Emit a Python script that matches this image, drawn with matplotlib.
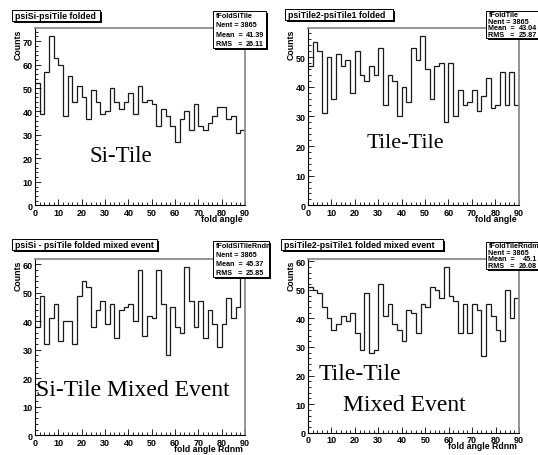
import numpy as np
import matplotlib
matplotlib.use("Agg")
import matplotlib.pyplot as plt
from matplotlib.patches import Rectangle
from matplotlib.ticker import MultipleLocator

W, H = 538, 456

# bin edges: 45 bins of 2 degrees between 0 and 90
bordes = np.arange(0, 92, 2)

si_tile = [52, 39, 57, 72, 63, 60, 38, 55, 44, 51, 46, 37, 49, 44, 39, 40, 50, 44, 41, 44,
           48, 39, 51, 44, 45, 43, 34, 41, 38, 34, 27, 37, 40, 32, 43, 34, 32, 35, 38, 42,
           42, 37, 38, 31, 32]
tile_tile = [47, 55, 52, 31, 50, 36, 51, 47, 49, 38, 52, 44, 42, 47, 44, 53, 34, 44, 42, 30,
             40, 35, 53, 49, 57, 46, 36, 47, 48, 28, 48, 30, 39, 34, 35, 39, 32, 37, 43, 33,
             34, 45, 34, 45, 34]
si_tile_mixed = [38, 49, 32, 41, 46, 33, 40, 40, 32, 49, 54, 52, 38, 44, 47, 39, 46, 34, 44, 45,
                 46, 40, 58, 35, 42, 41, 58, 46, 28, 45, 38, 36, 59, 47, 38, 47, 34, 44, 39, 31,
                 39, 48, 41, 45, 58]
tile_tile_mixed = [51, 50, 49, 44, 40, 36, 38, 41, 39, 42, 35, 29, 49, 28, 29, 52, 41, 45, 38, 36,
                   32, 43, 42, 35, 45, 44, 51, 50, 47, 58, 48, 46, 35, 45, 35, 45, 43, 27, 45, 41,
                   36, 32, 50, 40, 47]

titulos = ["psiSi-psiTile folded", "psiTile2-psiTile1 folded",
           "psiSi - psiTile folded mixed event", "psiTile2-psiTile1 folded mixed event"]
nombres = ["fFoldSiTile", "fFoldTile", "fFoldSiTileRndm", "fFoldTileRndm"]
nent = [3865, 3865, 3865, 3865]
medias = ["41.39", "43.04", "45.37", "45.1"]
rms = ["26.11", "25.87", "25.85", "26.08"]
etiquetas_x = ["fold angle", "fold angle", "fold angle Rdnm", "fold angle Rdnm"]

plt.rcParams['font.family'] = ['Liberation Sans', 'DejaVu Sans']
plt.rcParams['font.weight'] = 'bold'

fig = plt.figure(figsize=(W / 100, H / 100), dpi=100)
fig.patch.set_facecolor('white')


def fx(x):
    return x / W


def fy(y):
    return 1 - y / H


def caja(x0, y0, x1, y1, sombra=1.6):
    # white box with a black drop shadow, ROOT style
    fig.add_artist(Rectangle((fx(x0 + sombra), fy(y1 + sombra)), (x1 - x0) / W, (y1 - y0) / H,
                             transform=fig.transFigure, facecolor='black', edgecolor='none', zorder=5))
    fig.add_artist(Rectangle((fx(x0), fy(y1)), (x1 - x0) / W, (y1 - y0) / H,
                             transform=fig.transFigure, facecolor='white', edgecolor='black',
                             lw=0.7, zorder=6))


# frame of each pad in pixels: x0, y0, x1, y1
marcos = [(35, 29, 245, 206.3), (308, 29, 518.7, 206.3),
          (35, 259.7, 245, 436.3), (308, 259.7, 519, 433.7)]
cajas_titulo = [(12, 11, 100, 22), (285, 10, 393, 21), (12, 240, 157, 251), (281, 240, 443, 251)]
cajas_stats = [(213, 12, 266, 49), (486, 12, 540, 39), (213, 242, 269, 278), (486, 243, 540, 270)]
datos = [si_tile, tile_tile, si_tile_mixed, tile_tile_mixed]

for i in range(4):
    x0, y0, x1, y1 = marcos[i]
    ax = fig.add_axes([fx(x0), fy(y1), (x1 - x0) / W, (y1 - y0) / H])
    ax.stairs(datos[i], bordes, color='#1a1a1a', lw=0.9, baseline=None)
    ax.set_xlim(0, 90)
    ax.set_ylim(0, 1.05 * max(datos[i]))
    ax.xaxis.set_major_locator(MultipleLocator(10))
    ax.xaxis.set_minor_locator(MultipleLocator(2))
    ax.yaxis.set_major_locator(MultipleLocator(10))
    ax.yaxis.set_minor_locator(MultipleLocator(2))
    ax.tick_params(which='both', direction='in', labelsize=6.5, width=0.6)
    ax.tick_params(axis='x', pad=2)
    ax.tick_params(axis='y', pad=1.5)
    ax.tick_params(which='major', length=4)
    ax.tick_params(which='minor', length=2)
    for lado in ['left', 'bottom']:
        ax.spines[lado].set_color('black')
        ax.spines[lado].set_linewidth(0.8)
    for lado in ['top', 'right']:
        ax.spines[lado].set_color('#8c8c8c')
        ax.spines[lado].set_linewidth(1.3)

    # axis titles
    fig.text(fx(x0 - 17), fy(y0 + 1), "Counts", rotation=90, ha='center', va='top', fontsize=6.3)
    fig.text(fx(x1 - 2), fy(y1 + 13), etiquetas_x[i], ha='right', va='center', fontsize=6.3)

    # pad title
    tx0, ty0, tx1, ty1 = cajas_titulo[i]
    caja(tx0, ty0, tx1, ty1)
    fig.text(fx(tx0 + 3), fy((ty0 + ty1) / 2), titulos[i], ha='left', va='center',
             fontsize=6.3, zorder=7)

    # statistics box
    sx0, sy0, sx1, sy1 = cajas_stats[i]
    caja(sx0, sy0, sx1, sy1)
    paso = (sy1 - sy0) / 4
    clip = Rectangle((fx(sx0), fy(sy1)), (sx1 - sx0) / W, (sy1 - sy0) / H,
                     transform=fig.transFigure)
    lineas = [(nombres[i], None), ("Nent = %d" % nent[i], None),
              ("Mean  = ", medias[i]), ("RMS   = ", rms[i])]
    for k, (izq, der) in enumerate(lineas):
        yy = fy(sy0 + paso * (k + 0.5))
        t = fig.text(fx(sx0 + 2.5), yy, izq, ha='left', va='center', fontsize=5.2, zorder=7)
        t.set_clip_path(clip)
        if der is not None:
            fig.text(fx(sx0 + 51), yy, der, ha='right', va='center', fontsize=5.2, zorder=7)

# large labels written on the pads
serif = dict(family=['Liberation Serif', 'DejaVu Serif'], weight='normal', ha='center', va='center')
fig.text(fx(121), fy(157), "Si-Tile", fontsize=16.5, **serif)
fig.text(fx(405), fy(144), "Tile-Tile", fontsize=16, **serif)
fig.text(fx(133), fy(391), "Si-Tile Mixed Event", fontsize=17, **serif)
fig.text(fx(360), fy(375), "Tile-Tile", fontsize=17, **serif)
fig.text(fx(404), fy(406), "Mixed Event", fontsize=17, **serif)

fig.savefig("out.png", dpi=100)
